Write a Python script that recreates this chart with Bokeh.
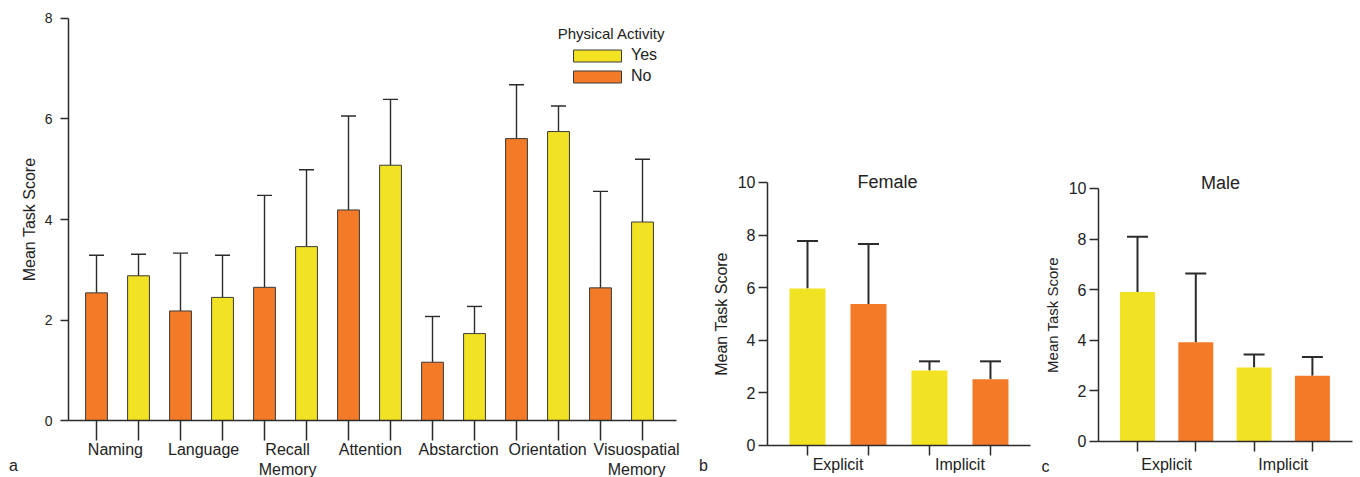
from bokeh.plotting import figure
from bokeh.models import (FixedTicker, Whisker, TeeHead, ColumnDataSource, Legend,
                          LegendItem, Label, Range1d)
from bokeh.layouts import row
from bokeh.embed import file_html
from bokeh.resources import INLINE

# ---------------- data ----------------
categories = ["Naming", "Language", "Recall\nMemory", "Attention", "Abstarction",
              "Orientation", "Visuospatial\nMemory"]
no_mean = [2.54, 2.18, 2.65, 4.19, 1.16, 5.61, 2.64]
no_sd = [0.75, 1.15, 1.83, 1.87, 0.91, 1.07, 1.92]
yes_mean = [2.88, 2.45, 3.46, 5.08, 1.73, 5.75, 3.95]
yes_sd = [0.43, 0.84, 1.53, 1.31, 0.54, 0.51, 1.25]

groups = ["Explicit", "Implicit"]
female_yes_mean = [5.97, 2.85]
female_yes_sd = [1.81, 0.35]
female_no_mean = [5.38, 2.52]
female_no_sd = [2.28, 0.68]
male_yes_mean = [5.91, 2.92]
male_yes_sd = [2.18, 0.52]
male_no_mean = [3.92, 2.60]
male_no_sd = [2.72, 0.74]

YELLOW = "#F2E224"
ORANGE = "#F37B28"
INK = "#2b2b2b"
TXT = "#222222"
FONT = "Liberation Sans"


def new_fig(width, xr, yr):
    p = figure(width=width, height=477, x_range=Range1d(*xr), y_range=Range1d(*yr),
               output_backend="svg", toolbar_location=None,
               min_border_left=0, min_border_right=0, min_border_top=0, min_border_bottom=0)
    p.xgrid.visible = False
    p.ygrid.visible = False
    p.outline_line_color = None
    p.background_fill_color = "white"
    p.border_fill_color = "white"
    for ax in (p.xaxis[0], p.yaxis[0]):
        ax.axis_line_color = INK
        ax.axis_line_width = 1.5
        ax.major_tick_line_color = INK
        ax.major_tick_line_width = 1.5
        ax.minor_tick_line_color = INK
        ax.minor_tick_line_width = 1.5
        ax.major_label_text_font = FONT
        ax.major_label_text_color = TXT
        ax.axis_label_text_font = FONT
        ax.axis_label_text_font_style = "normal"
        ax.axis_label_text_color = TXT
    return p


def add_whiskers(p, xs, means, sds, size, lw):
    src = ColumnDataSource(dict(x=xs, lo=means, hi=[m + s for m, s in zip(means, sds)]))
    w = Whisker(source=src, base="x", lower="lo", upper="hi", dimension="height",
                line_color=INK, line_width=lw, lower_head=None,
                upper_head=TeeHead(size=size, line_color=INK, line_width=lw))
    p.add_layout(w)


def add_text(p, x, y, text, size):
    p.add_layout(Label(x=x, y=y, text=text, text_font=FONT, text_font_size=size,
                       text_align="center", text_baseline="middle", text_color=TXT))


# ---------------- panel a ----------------
n = len(categories)
pos_no = [2 * i for i in range(n)]
pos_yes = [2 * i + 1 for i in range(n)]
xa0, xa1 = -0.667, 13.81

pa = new_fig(690, (-2.286, 14.143), (-1.134, 8.358))

r_no = pa.vbar(x=pos_no, top=no_mean, width=0.52, fill_color=ORANGE,
               line_color="#3a3a3a", line_width=1)
r_yes = pa.vbar(x=pos_yes, top=yes_mean, width=0.52, fill_color=YELLOW,
                line_color="#3a3a3a", line_width=1)
add_whiskers(pa, pos_no, no_mean, no_sd, 15, 1.4)
add_whiskers(pa, pos_yes, yes_mean, yes_sd, 15, 1.4)

# category label placement (layout only: labels spread slightly to avoid overlap)
label_shift = [-0.05, 0.05, 0.05, 0.02, 0.12, 0.24, 0.36]
label_pos = [2 * i + 0.5 + s for i, s in zip(range(n), label_shift)]
xax = pa.xaxis[0]
xax.fixed_location = 0
xax.bounds = (xa0, xa1)
xax.ticker = FixedTicker(ticks=label_pos, minor_ticks=pos_no + pos_yes)
xax.major_label_overrides = {lp: c for lp, c in zip(label_pos, categories)}
xax.major_tick_out = 0
xax.major_tick_in = 0
xax.minor_tick_out = 20
xax.minor_tick_in = 0
xax.major_label_standoff = 0
xax.major_label_text_font_size = "16px"

yax = pa.yaxis[0]
yax.fixed_location = xa0
yax.bounds = (0, 8)
yax.ticker = FixedTicker(ticks=[0, 2, 4, 6, 8])
yax.major_tick_out = 8
yax.major_tick_in = 0
yax.minor_tick_out = 0
yax.major_label_standoff = 8
yax.major_label_text_font_size = "14px"
yax.axis_label = "Mean Task Score"
yax.axis_label_text_font_size = "16px"
yax.axis_label_standoff = 4

legend = Legend(items=[LegendItem(label="Yes", renderers=[r_yes]),
                       LegendItem(label="No", renderers=[r_no])],
                location=(567, 392),
                glyph_width=60, glyph_height=15, label_height=15, spacing=3,
                label_standoff=4, padding=4, margin=0,
                border_line_color=None, background_fill_alpha=0,
                label_text_font=FONT, label_text_font_size="16px",
                label_text_color=TXT)
pa.add_layout(legend)
add_text(pa, 12.262, 7.70, "Physical Activity", "15px")
add_text(pa, -1.976, -0.896, "a", "16px")


# ---------------- panels b and c ----------------
def gender_panel(title, yes_m, yes_s, no_m, no_s, width, xr, yr, axb, bw,
                 title_xy, letter, letter_xy, label_size, xstand, ystand, ylstand):
    p = new_fig(width, xr, yr)
    k = len(groups)
    xs_yes = [2 * i for i in range(k)]
    xs_no = [2 * i + 1 for i in range(k)]
    p.vbar(x=xs_yes, top=yes_m, width=bw, fill_color=YELLOW, line_color=None)
    p.vbar(x=xs_no, top=no_m, width=bw, fill_color=ORANGE, line_color=None)
    add_whiskers(p, xs_yes, yes_m, yes_s, 21, 2)
    add_whiskers(p, xs_no, no_m, no_s, 21, 2)

    lp = [2 * i + 0.5 for i in range(k)]
    xa = p.xaxis[0]
    xa.fixed_location = 0
    xa.bounds = axb
    xa.ticker = FixedTicker(ticks=lp, minor_ticks=xs_yes + xs_no)
    xa.major_label_overrides = {a: g for a, g in zip(lp, groups)}
    xa.major_tick_out = 0
    xa.major_tick_in = 0
    xa.minor_tick_out = 10
    xa.minor_tick_in = 0
    xa.major_label_standoff = xstand
    xa.major_label_text_font_size = "16px"

    ya = p.yaxis[0]
    ya.fixed_location = axb[0]
    ya.bounds = (0, 10)
    ya.ticker = FixedTicker(ticks=[0, 2, 4, 6, 8, 10])
    ya.major_tick_out = 9
    ya.major_tick_in = 0
    ya.minor_tick_out = 0
    ya.major_label_standoff = ystand
    ya.major_label_text_font_size = "16px"
    ya.axis_label = "Mean Task Score"
    ya.axis_label_text_font_size = label_size
    ya.axis_label_standoff = ylstand

    add_text(p, title_xy[0], title_xy[1], title, "18px")
    add_text(p, letter_xy[0], letter_xy[1], letter, "16px")
    return p


pb = gender_panel("Female", female_yes_mean, female_yes_sd, female_no_mean, female_no_sd,
                  342, (-1.918, 3.689), (-1.217, 16.92), (-0.656, 3.656), 0.59,
                  (1.31, 10.0), "b", (-1.705, -0.76), "16px", 1, 3, 5)
pc = gender_panel("Male", male_yes_mean, male_yes_sd, male_no_mean, male_no_sd,
                  328, (-1.801, 3.825), (-1.423, 17.43), (-0.67, 3.69), 0.6,
                  (1.424, 10.2), "c", (-1.58, -0.99), "15px", 5, 3, 5)

layout = row(pa, pb, pc)
open("out.html", "w").write(file_html(layout, INLINE))
